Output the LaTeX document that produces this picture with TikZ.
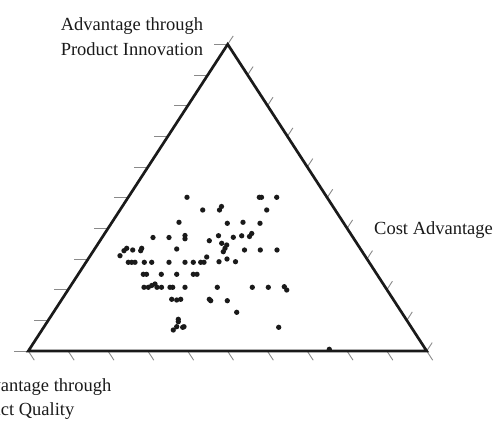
\documentclass[tikz,border=0pt]{standalone}
\usepackage{fontspec}
\setmainfont{Liberation Serif}
\usetikzlibrary{calc}
\definecolor{ink}{HTML}{1A1A1A}
\definecolor{tickgray}{HTML}{8A8A8A}
\tikzset{
  edge/.style={draw=ink, line width=2.7pt},
  tickmark/.style={draw=tickgray, line width=0.9pt},
  dot/.style={circle, fill=ink, inner sep=0pt, minimum size=5.3pt},
  lbl/.style={inner sep=0pt, text=ink, font=\fontsize{18.5}{24.7}\selectfont}
}
\begin{document}
\begin{tikzpicture}[x=1pt, y=-1pt]
\useasboundingbox (0,0) rectangle (494,420);
% corners
\coordinate (qual) at (28.3,351);
\coordinate (cost) at (426.7,351);
\coordinate (innov) at (227.7,44.3);
% ticks
\foreach \i in {0,...,10}{
  \draw[tickmark] ($(qual)!\i/10!(innov)$) -- ++(-14,0);
  \draw[tickmark] ($(qual)!\i/10!(cost)$) -- ++(6,9.2);
  \draw[tickmark] ($(innov)!\i/10!(cost)$) -- ++(5.5,-8.4);
}
\draw[edge] (qual) -- (cost) -- (innov) -- cycle;
% labels
\node[lbl, anchor=base east] (innovA) at (203.3,30.8) {Advantage through};
\node[lbl, anchor=base east] (innovB) at (203.3,55.5) {Product Innovation};
\node[lbl, anchor=base west] (costA) at (374,234) {Cost Advantage};
\node[lbl, anchor=base west] (qualA) at (-31.2,391.7) {Advantage through};
\node[lbl, anchor=base west] (qualB) at (-43.5,415) {Product Quality};
% firms
\foreach \px/\py [count=\i] in {
  187/197.3, 259.3/197.3, 261.5/197.3, 276.7/197.3,
  202.7/210, 219.5/210, 221.5/206.5, 266.7/210,
  179/222.3, 227.3/223.3, 243/222.3, 260/223.3,
  153/237.5, 169/237.5, 185/235.5, 185/238.8, 209.3/240.7, 218.5/235.7,
  233.3/237.3, 241.7/235.8, 249.5/236.5, 251.7/233.5,
  221.7/243.3, 226.7/245, 225/248.3, 223.3/251.7,
  120/255.7, 124/250.7, 126.7/248.3, 132.7/250, 140.7/250.7, 141.7/248.3,
  176.7/249, 244.5/250, 260.3/250, 277/250,
  128.3/262.3, 131.7/262.3, 135/262.3, 144.3/262.3, 151.7/262.3, 169/262.3,
  185/262.3, 193.3/262.3, 200.7/262.3, 204/262.3, 206.7/257, 219/261.7,
  227/259, 235.5/261.7,
  143.3/274.3, 146.5/274.3, 161.3/274.3, 176.7/274.3, 193.3/274.3, 197/274.3,
  144/287.3, 148.3/287.3, 151.7/285.5, 155/284, 157/287.3, 161.5/287.3,
  170/287.3, 172.7/287.3, 185/287.3, 217.3/287.3, 252.3/287.3, 268.3/287.3,
  284.3/286.7, 286.7/290,
  171.7/299.3, 176.7/300, 180.7/299.3, 209.3/299.3, 210.7/300.7, 227.3/300.7,
  236.7/312.3,
  173.3/330, 176.7/326.7, 178.3/321.7, 178.3/319.3, 182.7/327.3, 184/326.7,
  278.7/327.3, 329.3/349.3}
  \node[dot] (firm\i) at (\px,\py) {};
\end{tikzpicture}
\end{document}
